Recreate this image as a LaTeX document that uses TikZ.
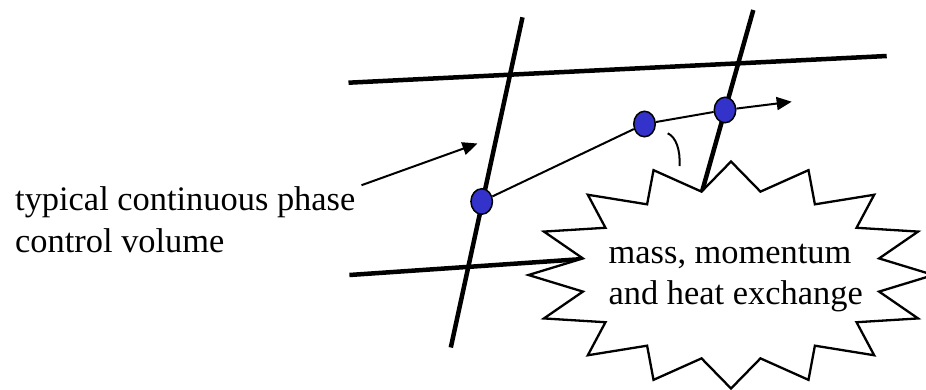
\documentclass[tikz,border=0pt]{standalone}
\usepackage{fontspec}
\setmainfont{Liberation Serif}
\usetikzlibrary{arrows.meta,shapes.geometric}
\definecolor{dotblue}{RGB}{51,51,204}
\begin{document}
\begin{tikzpicture}[x=1pt,y=-1pt,
 thickline/.style={line width=4.5pt},
 thinline/.style={line width=2pt},
 dot/.style={ellipse, draw=black, fill=dotblue, line width=1.5pt, minimum width=21.5pt, minimum height=25.5pt, inner sep=0pt},
 burst/.style={draw=black, fill=white, line width=2.3pt, line join=miter},
 txt/.style={font=\fontsize{34.4}{41.5}\selectfont, align=left, inner sep=0pt, anchor=base west},
 arr/.style={thinline, -{Triangle[length=15pt,width=13pt]}}]
\useasboundingbox (0,0) rectangle (926,389);
% grid lines
\coordinate (L1t) at (522.5,17.3);
\coordinate (L1b) at (450.8,347.5);
\coordinate (L2t) at (753.3,10);
\coordinate (L2b) at (702.3,190.7);
\coordinate (H1l) at (348.5,82.7);
\coordinate (H1r) at (886.7,56);
\coordinate (H2l) at (349.4,275);
\coordinate (H2r) at (583.3,259);
\draw[thickline] (L1t) -- (L1b);
\draw[thickline] (L2t) -- (L2b);
\draw[thickline] (H1l) -- (H1r);
\draw[thickline] (H2l) -- (H2r);
% starburst
\draw[burst] (933.5,275) \foreach \k in {0,...,15} {
  -- ({731+151*cos(\k*22.5+11.25)}, {275-85*sin(\k*22.5+11.25)})
  -- ({731+202.5*cos(\k*22.5+22.5)}, {275-113.5*sin(\k*22.5+22.5)}) } -- cycle;
% multi-line node: base anchor is the baseline of the last line
\node[txt] (ex) at (608.5,304.5) {mass, momentum\\and heat exchange};
\node[txt] (cv) at (15,252) {typical continuous phase\\control volume};
% dots
\node[dot] (d1) at (481.7,201.5) {};
\node[dot] (d2) at (644.5,124) {};
\node[dot] (d3) at (725,110) {};
\draw[thinline] (d1) -- (d2) -- (d3);
\coordinate (tip) at (791.7,101.7);
\draw[arr] (d3) -- (tip);
\coordinate (cvs) at (361.5,185.2);
\coordinate (cvt) at (477.5,143.5);
\draw[arr] (cvs) -- (cvt);
\draw[thinline] (667.7,133.3) .. controls (676,137) and (680.5,150) .. (679.5,166);
\end{tikzpicture}
\end{document}
